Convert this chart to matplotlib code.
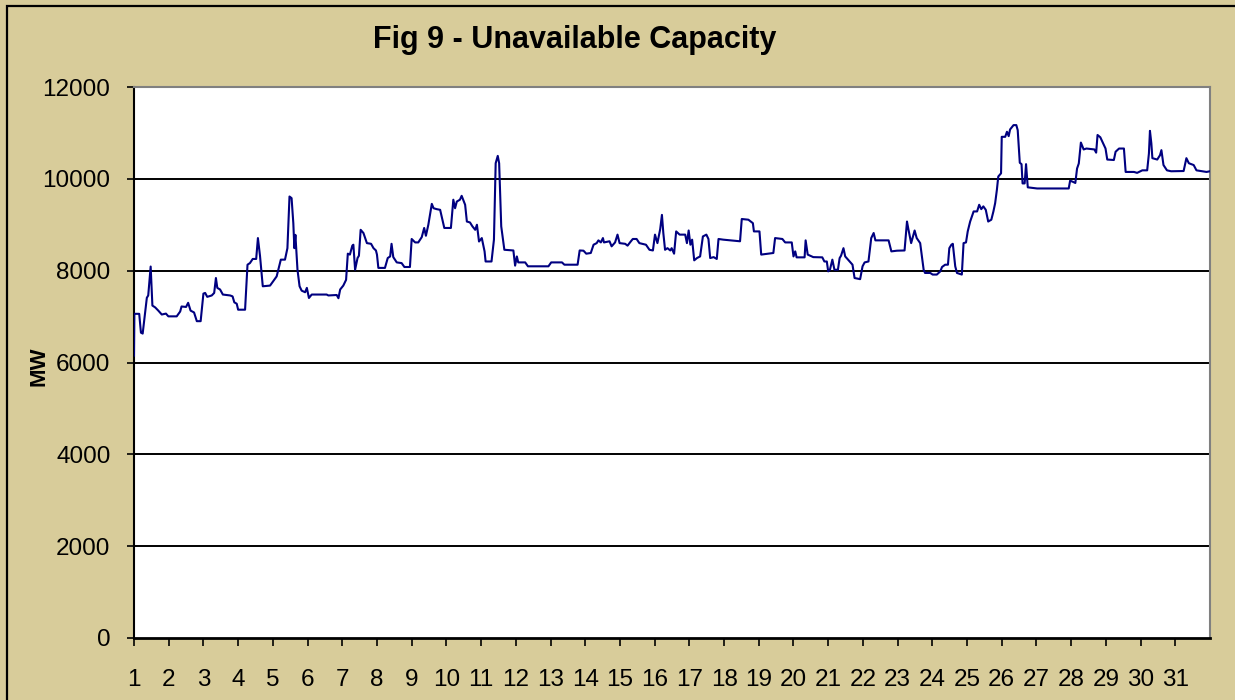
import matplotlib
matplotlib.use("Agg")
import matplotlib.pyplot as plt
from matplotlib.patches import Rectangle

plt.rcParams['font.family'] = ['Liberation Sans', 'DejaVu Sans']

title = "Fig 9 - Unavailable Capacity"
ylabel = "MW"
day_ticks = list(range(1, 32))
y_ticks = [0, 2000, 4000, 6000, 8000, 10000, 12000]

# time position (day of month, fractional) and unavailable capacity (MW)
days = [
    1.00, 1.01, 1.15, 1.20, 1.25, 1.32, 1.37, 1.41, 1.48, 1.53, 1.61, 1.70, 1.80, 1.92, 1.99,
    2.23, 2.33, 2.37, 2.50, 2.56, 2.63, 2.73, 2.81, 2.92, 3.00, 3.05, 3.11, 3.24, 3.31, 3.36,
    3.40, 3.48, 3.56, 3.77, 3.84, 3.89, 3.96, 4.00, 4.20, 4.27, 4.34, 4.42, 4.52, 4.57, 4.63,
    4.71, 4.92, 5.01, 5.11, 5.23, 5.35, 5.42, 5.48, 5.54, 5.59, 5.62, 5.65, 5.71, 5.77, 5.83,
    5.93, 5.98, 6.04, 6.12, 6.55, 6.60, 6.84, 6.89, 6.94, 7.03, 7.11, 7.16, 7.22, 7.29, 7.32,
    7.37, 7.44, 7.48, 7.53, 7.61, 7.71, 7.83, 7.90, 7.97, 8.00, 8.04, 8.23, 8.31, 8.38, 8.42,
    8.47, 8.57, 8.71, 8.79, 8.95, 9.00, 9.10, 9.19, 9.29, 9.36, 9.41, 9.48, 9.58, 9.63, 9.72,
    9.82, 9.94, 10.13, 10.20, 10.25, 10.30, 10.39, 10.44, 10.54, 10.59, 10.68, 10.75, 10.83,
    10.88, 10.94, 11.02, 11.10, 11.13, 11.30, 11.37, 11.42, 11.48, 11.52, 11.58, 11.67, 11.93,
    11.98, 12.03, 12.07, 12.27, 12.35, 12.94, 13.02, 13.33, 13.40, 13.78, 13.84, 13.95, 14.03,
    14.16, 14.24, 14.33, 14.38, 14.45, 14.51, 14.54, 14.70, 14.76, 14.86, 14.93, 14.99, 15.15,
    15.22, 15.29, 15.37, 15.48, 15.56, 15.75, 15.85, 15.95, 16.01, 16.08, 16.16, 16.21, 16.25,
    16.30, 16.37, 16.45, 16.49, 16.56, 16.62, 16.72, 16.88, 16.93, 16.98, 17.03, 17.08, 17.14,
    17.22, 17.31, 17.39, 17.49, 17.55, 17.60, 17.70, 17.79, 17.84, 17.98, 18.46, 18.51, 18.70,
    18.83, 18.86, 19.02, 19.07, 19.42, 19.47, 19.68, 19.76, 19.95, 20.00, 20.05, 20.09, 20.32,
    20.35, 20.41, 20.57, 20.83, 20.89, 20.96, 21.00, 21.05, 21.12, 21.18, 21.28, 21.33, 21.37,
    21.44, 21.49, 21.59, 21.70, 21.76, 21.92, 21.99, 22.05, 22.16, 22.24, 22.31, 22.36, 22.74,
    22.82, 22.98, 23.20, 23.27, 23.31, 23.39, 23.49, 23.55, 23.65, 23.75, 23.79, 23.94, 24.01,
    24.13, 24.23, 24.28, 24.37, 24.45, 24.49, 24.55, 24.59, 24.66, 24.71, 24.85, 24.90, 24.97,
    25.02, 25.09, 25.19, 25.29, 25.35, 25.41, 25.47, 25.54, 25.61, 25.70, 25.76, 25.81, 25.86,
    25.90, 25.98, 26.00, 26.10, 26.15, 26.20, 26.24, 26.34, 26.42, 26.46, 26.52, 26.57, 26.60,
    26.66, 26.70, 26.75, 27.02, 27.93, 27.97, 28.05, 28.12, 28.17, 28.22, 28.28, 28.36, 28.44,
    28.67, 28.72, 28.76, 28.84, 28.92, 28.99, 29.04, 29.23, 29.28, 29.38, 29.52, 29.57, 29.81,
    29.90, 30.05, 30.19, 30.24, 30.27, 30.31, 30.34, 30.48, 30.56, 30.60, 30.66, 30.76, 30.88,
    31.24, 31.32, 31.39, 31.53, 31.61, 31.77, 31.90, 32.00,
]
capacity_mw = [
    6150, 7060, 7060, 6650, 6630, 7090, 7410, 7460, 8090, 7240, 7200, 7130, 7045, 7065, 7005,
    7005, 7110, 7220, 7210, 7300, 7130, 7090, 6900, 6900, 7500, 7515, 7430, 7460, 7515, 7840,
    7625, 7590, 7480, 7460, 7440, 7310, 7280, 7150, 7150, 8130, 8165, 8255, 8255, 8710, 8325,
    7660, 7675, 7770, 7875, 8240, 8240, 8490, 9615, 9580, 9035, 8490, 8780, 8020, 7660, 7565,
    7530, 7625, 7405, 7480, 7480, 7460, 7470, 7400, 7590, 7675, 7800, 8370, 8350, 8545, 8565,
    8020, 8275, 8325, 8890, 8820, 8600, 8585, 8490, 8440, 8350, 8060, 8060, 8275, 8310, 8585,
    8295, 8180, 8165, 8080, 8080, 8690, 8615, 8615, 8730, 8930, 8760, 9000, 9455, 9360, 9340,
    9325, 8930, 8930, 9545, 9360, 9505, 9545, 9630, 9435, 9070, 9050, 8965, 8890,
    9000, 8635, 8710, 8420, 8200, 8200, 8675, 10340, 10500, 10340, 8965, 8455, 8440,
    8110, 8310, 8180, 8180, 8095, 8095, 8180, 8180, 8130, 8130, 8440, 8435, 8370,
    8385, 8565, 8600, 8660, 8615, 8710, 8615, 8640, 8530, 8615, 8785, 8600, 8585,
    8545, 8615, 8690, 8690, 8600, 8565, 8455, 8440, 8785, 8600, 8905, 9215, 8820,
    8455, 8490, 8440, 8490, 8370, 8855, 8785, 8785, 8600, 8875, 8565, 8675, 8225,
    8275, 8310, 8745, 8785, 8690, 8275, 8295, 8255, 8690, 8675, 8640, 9125, 9110,
    9035, 8855, 8855, 8350, 8385, 8710, 8690, 8615, 8615, 8310, 8420, 8290, 8290,
    8660, 8350, 8295, 8290, 8200, 8200, 7985, 8020, 8240, 8020, 8020, 8275, 8325,
    8490, 8310, 8225, 8130, 7840, 7815, 8095, 8180, 8200, 8710, 8820, 8660, 8660,
    8420, 8435, 8440, 9070, 8905, 8600, 8875, 8710, 8600, 8020, 7950, 7950, 7915,
    7915, 7985, 8080, 8130, 8130, 8490, 8565, 8585, 8095, 7950, 7915, 8600, 8615,
    8855, 9070, 9290, 9290, 9435, 9340, 9400, 9325, 9070, 9110, 9290, 9470, 9760,
    10050, 10120, 10915, 10915, 11025, 10930, 11075, 11170, 11170, 11060, 10350, 10320, 9900,
    9900, 10320, 9815, 9790, 9790, 9960, 9935, 9910, 10225, 10335, 10790, 10640, 10660,
    10640, 10570, 10955, 10905, 10775, 10660, 10420, 10410, 10590, 10660, 10660, 10150, 10150,
    10130, 10185, 10185, 10550, 11045, 10775, 10450, 10420, 10515, 10625, 10300, 10185, 10165,
    10170, 10450, 10340, 10300, 10185, 10165, 10150, 10165,
]

W, H = 1235, 700
bg = "#D8CC9A"
fig = plt.figure(figsize=(W / 100, H / 100), dpi=100, facecolor=bg)

# outer chart-area frame
fig.patches.append(Rectangle((7 / W, -0.02), 1.05, (H - 6) / H + 0.02,
                             transform=fig.transFigure, fill=False,
                             edgecolor="black", linewidth=1.6, zorder=0))

ax = fig.add_axes([134 / W, 1 - 638 / H, (1210 - 134) / W, (638 - 87) / H])
ax.set_facecolor("white")

ax.plot(days, capacity_mw, color="#000080", linewidth=1.5, zorder=3)

ax.set_xlim(1, 32)
ax.set_ylim(0, 12000)
ax.set_yticks(y_ticks)
ax.set_yticklabels([str(v) for v in y_ticks])
ax.set_xticks(day_ticks)
ax.set_xticklabels([str(d) for d in day_ticks])

for v in y_ticks[1:-1]:
    ax.axhline(v, color="black", linewidth=1.4, zorder=2)

ax.tick_params(axis="y", direction="out", length=5, width=1.2, labelsize=17.5, pad=12)
ax.tick_params(axis="x", direction="out", length=6, width=1.2, labelsize=17.5, pad=16)

ax.spines["left"].set_color("black")
ax.spines["left"].set_linewidth(1.5)
ax.spines["bottom"].set_color("black")
ax.spines["bottom"].set_linewidth(2.0)
ax.spines["top"].set_color("#808080")
ax.spines["top"].set_linewidth(1.5)
ax.spines["right"].set_color("#808080")
ax.spines["right"].set_linewidth(1.5)

fig.text(575 / W, 1 - 40 / H, title, ha="center", va="center",
         fontsize=22, fontweight="bold")
fig.text(39 / W, 1 - 366 / H, ylabel, ha="center", va="center",
         rotation=90, fontsize=16, fontweight="bold")

fig.savefig("out.png", dpi=100, facecolor=bg)
